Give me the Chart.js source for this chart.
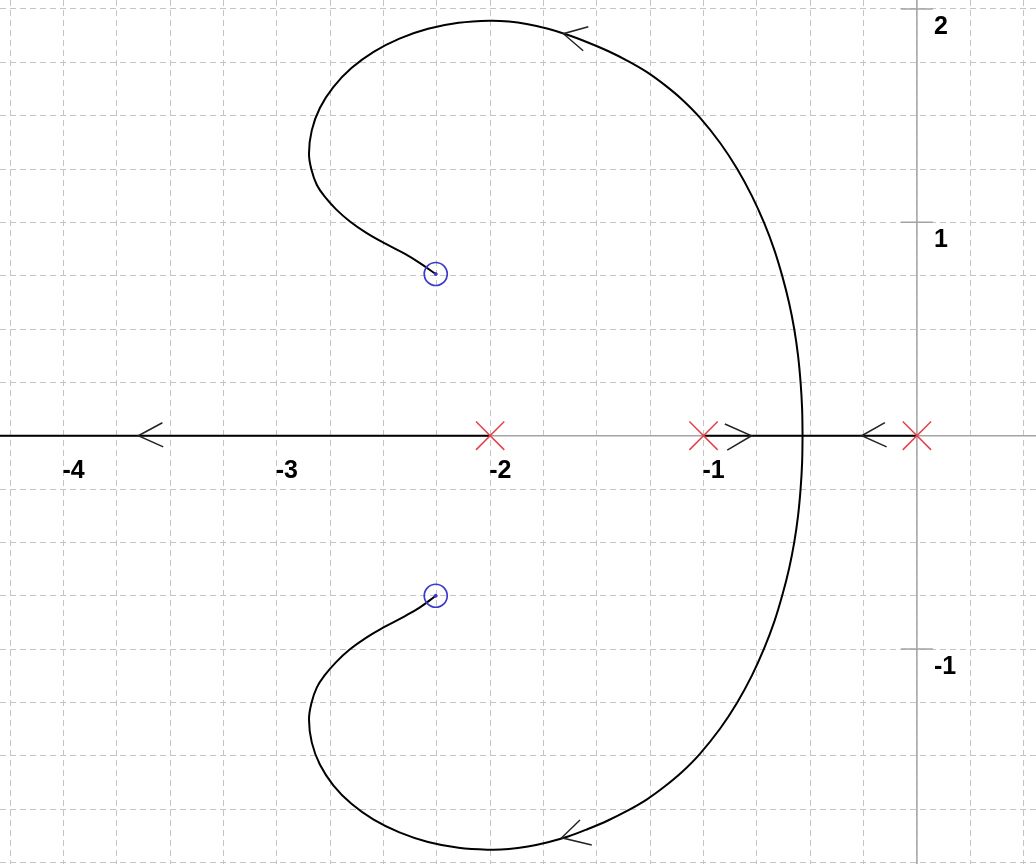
<!DOCTYPE html>
<html>
<head>
<meta charset="utf-8">
<script src="https://cdn.jsdelivr.net/npm/chart.js@4.4.0/dist/chart.umd.min.js"></script>
<style>
  body { margin: 0; background: #fff; }
  canvas { display: block; }
</style>
</head>
<body>
<canvas id="locus" width="1036" height="864"></canvas>
<script>
// poles (x) and zeros (o)
var poleX = [0, -1, -2];
var poleY = [0, 0, 0];
var zeroX = [-2.255, -2.255];
var zeroY = [0.758, -0.75];

// real axis parts of the locus
var realLeftX = [-2, -4.5];
var realLeftY = [0, 0];
var realMidX = [-1, 0];
var realMidY = [0, 0];

// complex branches, breakaway point -> zero
var upperX = [-0.536, -0.538, -0.545, -0.557, -0.575, -0.599, -0.631, -0.668, -0.716, -0.773, -0.842, -0.922, -1.019, -1.101, -1.181, -1.265, -1.354, -1.448, -1.542, -1.635, -1.729, -1.823, -1.912, -2.001, -2.148, -2.291, -2.425, -2.546, -2.65, -2.735, -2.798, -2.836, -2.849, -2.837, -2.812, -2.774, -2.723, -2.657, -2.582, -2.493, -2.399, -2.329, -2.255];
var upperY = [0, 0.125, 0.247, 0.374, 0.5, 0.622, 0.748, 0.87, 0.997, 1.123, 1.25, 1.372, 1.493, 1.576, 1.643, 1.704, 1.756, 1.803, 1.843, 1.878, 1.907, 1.928, 1.941, 1.945, 1.935, 1.907, 1.861, 1.799, 1.723, 1.634, 1.536, 1.431, 1.323, 1.245, 1.175, 1.119, 1.062, 1.004, 0.952, 0.901, 0.852, 0.809, 0.758];
var lowerX = [-0.536, -0.538, -0.545, -0.557, -0.575, -0.599, -0.631, -0.668, -0.716, -0.773, -0.842, -0.922, -1.019, -1.101, -1.181, -1.265, -1.354, -1.448, -1.542, -1.635, -1.729, -1.823, -1.912, -2.001, -2.148, -2.291, -2.425, -2.546, -2.65, -2.735, -2.798, -2.836, -2.849, -2.837, -2.812, -2.774, -2.723, -2.657, -2.582, -2.493, -2.399, -2.329, -2.255];
var lowerY = [0, -0.125, -0.247, -0.374, -0.5, -0.622, -0.748, -0.87, -0.997, -1.123, -1.25, -1.372, -1.493, -1.576, -1.643, -1.704, -1.756, -1.803, -1.843, -1.878, -1.905, -1.925, -1.937, -1.94, -1.931, -1.904, -1.859, -1.799, -1.725, -1.638, -1.541, -1.437, -1.33, -1.251, -1.179, -1.121, -1.062, -1.001, -0.947, -0.895, -0.845, -0.804, -0.75];

// arrow heads: arm end, tip, arm end
var arrowX = [
  [-3.536, -3.649, -3.532],
  [-0.9, -0.775, -0.889],
  [-0.15, -0.259, -0.142],
  [-1.54, -1.657, -1.564],
  [-1.579, -1.665, -1.524]
];
var arrowY = [
  [0.061, 0, -0.052],
  [0.055, 0, -0.067],
  [0.061, 0, -0.052],
  [1.917, 1.884, 1.804],
  [-1.801, -1.884, -1.918]
];

// axis labels
var xTickValues = [-4, -3, -2, -1];
var xTickLabels = ["-4", "-3", "-2", "-1"];
var yTickValues = [2, 1, -1];
var yTickLabels = ["2", "1", "-1"];

function pts(xs, ys) {
  return xs.map(function (x, i) { return { x: x, y: ys[i] }; });
}

var axesPlugin = {
  id: "axesPlugin",
  beforeDatasetsDraw: function (chart) {
    var ctx = chart.ctx;
    var xs = chart.scales.x, ys = chart.scales.y, area = chart.chartArea;
    var x0 = xs.getPixelForValue(0), y0 = ys.getPixelForValue(0);
    ctx.save();
    ctx.strokeStyle = "#a4a4a4";
    ctx.lineWidth = 1.5;
    ctx.beginPath();
    ctx.moveTo(area.left, y0);
    ctx.lineTo(area.right, y0);
    ctx.moveTo(x0, area.top);
    ctx.lineTo(x0, area.bottom);
    yTickValues.forEach(function (v) {
      var p = ys.getPixelForValue(v);
      ctx.moveTo(x0 - 16, p);
      ctx.lineTo(x0 + 16, p);
    });
    ctx.stroke();
    ctx.restore();
  },
  afterDatasetsDraw: function (chart) {
    var ctx = chart.ctx;
    var xs = chart.scales.x, ys = chart.scales.y;
    var x0 = xs.getPixelForValue(0), y0 = ys.getPixelForValue(0);
    ctx.save();
    ctx.fillStyle = "#000";
    ctx.font = "bold 25px 'Liberation Sans', Arial, sans-serif";
    ctx.textAlign = "left";
    ctx.textBaseline = "alphabetic";
    xTickValues.forEach(function (v, i) {
      ctx.fillText(xTickLabels[i], xs.getPixelForValue(v) - 1, y0 + 42);
    });
    yTickValues.forEach(function (v, i) {
      ctx.fillText(yTickLabels[i], x0 + 17, ys.getPixelForValue(v) + 25);
    });
    ctx.restore();
  }
};

var lineDs = function (data) {
  return {
    data: data,
    showLine: true,
    borderColor: "#000",
    borderWidth: 2,
    pointRadius: 0,
    tension: 0.4,
    fill: false,
    order: 2
  };
};

var datasets = [
  {
    data: pts(poleX, poleY),
    pointStyle: "crossRot",
    pointRadius: 20,
    borderColor: "#e4424a",
    borderWidth: 1.5,
    order: 0
  },
  {
    data: pts(zeroX, zeroY),
    pointStyle: "circle",
    pointRadius: 11.5,
    borderColor: "#3a3acc",
    backgroundColor: "rgba(0,0,0,0)",
    borderWidth: 1.7,
    order: 0
  },
  {
    data: pts(zeroX, zeroY),
    pointStyle: "circle",
    pointRadius: 1.5,
    borderColor: "#3a3acc",
    backgroundColor: "#3a3acc",
    borderWidth: 1,
    order: 0
  },
  lineDs(pts(realLeftX, realLeftY)),
  lineDs(pts(realMidX, realMidY)),
  lineDs(pts(upperX, upperY)),
  lineDs(pts(lowerX, lowerY))
];

arrowX.forEach(function (ax, i) {
  datasets.push({
    data: pts(ax, arrowY[i]),
    showLine: true,
    borderColor: "#222",
    borderWidth: 1.5,
    pointRadius: 0,
    tension: 0,
    order: 1
  });
});

function quarterTicks(scale) {
  var t = [];
  for (var k = Math.ceil(scale.min / 0.25); k <= Math.floor(scale.max / 0.25); k++) {
    t.push({ value: k * 0.25 });
  }
  scale.ticks = t;
}

var gridOpts = {
  color: "#c4c4c4",
  lineWidth: 1,
  drawTicks: false
};

var ctx = document.getElementById("locus").getContext("2d");
var chart = new Chart(ctx, {
  type: "scatter",
  data: { datasets: datasets },
  options: {
    responsive: false,
    animation: false,
    layout: { padding: 0, autoPadding: false },
    plugins: {
      legend: { display: false },
      tooltip: { enabled: false }
    },
    scales: {
      x: {
        type: "linear",
        min: -4.297,
        max: 0.558,
        afterBuildTicks: quarterTicks,
        ticks: { display: false },
        grid: gridOpts,
        border: { display: false, dash: [6, 4] }
      },
      y: {
        type: "linear",
        min: -2.007,
        max: 2.042,
        afterBuildTicks: quarterTicks,
        ticks: { display: false },
        grid: gridOpts,
        border: { display: false, dash: [6, 4] }
      }
    }
  },
  plugins: [axesPlugin]
});
</script>
</body>
</html>
